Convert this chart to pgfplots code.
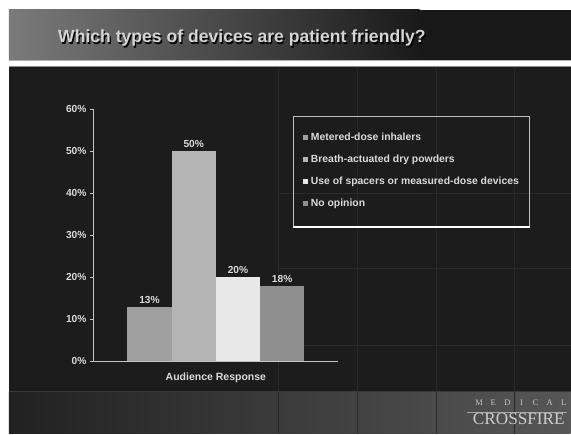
\documentclass[border=0pt]{standalone}
\usepackage{fontspec}
\setmainfont{Liberation Sans}
\newfontfamily\seriffont{Liberation Serif}
\usepackage{pgfplots}
\pgfplotsset{compat=1.18}
\definecolor{bodybg}{HTML}{1C1C1C}
\definecolor{gridc}{HTML}{292929}
\definecolor{axc}{HTML}{C4C4C4}
\definecolor{txt}{HTML}{DADADA}
\definecolor{barA}{HTML}{9F9F9F}
\definecolor{barB}{HTML}{B4B4B4}
\definecolor{barC}{HTML}{E8E8E8}
\definecolor{barD}{HTML}{8F8F8F}
\begin{document}
\begin{tikzpicture}[x=1pt,y=1pt]
% slide background
\fill[white] (0,0) rectangle (571,434);
\shade[left color=black!52!white, right color=black!90!white] (9,374) rectangle (420,424);
\fill[black!90!white] (419.5,374) rectangle (571,424);
\fill[black!30!white] (9,373) rectangle (571,374);
\fill[white] (9,367.5) rectangle (571,373);
\fill[black!45!white] (9,367) rectangle (571,367.6);
\fill[bodybg] (9,42) rectangle (571,367);
\shade[left color=black!87!white, right color=black!66!white] (9,0) rectangle (571,42);
\fill[black!78!white] (9,41.5) rectangle (571,42.5);
% decorative grid
\foreach \gx in {279,358,437,515} \draw[gridc, line width=0.7pt] (\gx,0) -- (\gx,367);
\foreach \gy in {241,165,88} \draw[gridc, line width=0.7pt] (279,\gy) -- (571,\gy);
% title
\node[anchor=base west, text=black, inner sep=0pt, font=\fontsize{17.6}{20}\selectfont\bfseries] at (59.3,389.8) {Which types of devices are patient friendly?};
\node[anchor=base west, text=black!17!white, inner sep=0pt, font=\fontsize{17.6}{20}\selectfont\bfseries] at (58,391) {Which types of devices are patient friendly?};
% chart
\begin{axis}[
  at={(94pt,72.3pt)}, anchor=south west,
  scale only axis, width=244pt, height=252.4pt,
  xmin=-1, xmax=1, ymin=0, ymax=60,
  ybar=0pt, bar width=44.25pt,
  axis x line*=bottom, axis y line*=left,
  axis line style={axc, line width=1.1pt},
  xtick=\empty,
  ytick={0,10,20,30,40,50,60},
  yticklabel={\pgfmathprintnumber{\tick}\%},
  /pgf/number format/assume math mode=true,
  tick align=outside, major tick length=3.5pt,
  y tick style={axc, line width=0.9pt},
  ticklabel style={font=\fontsize{10.2}{12}\selectfont\bfseries, text=txt},
  yticklabel style={xshift=-0.5pt},
  xlabel={Audience Response},
  xlabel style={font=\fontsize{10.5}{12}\selectfont\bfseries, text=txt, at={(axis description cs:0.5,0)}, anchor=north, yshift=-7.5pt},
  nodes near coords={\pgfmathprintnumber{\pgfplotspointmeta}\%},
  nodes near coords style={font=\fontsize{10.2}{12}\selectfont\bfseries, text=txt, /pgf/number format/assume math mode=true},
  legend image code/.code={\fill[#1] (0pt,-2.6pt) rectangle (5.2pt,2.6pt);},
  legend style={at={(axis description cs:0.857,0.906)}, anchor=north west, draw=none, fill=none,
    font=\fontsize{10.4}{12}\selectfont\bfseries, text=txt, row sep=13pt, inner sep=0pt,
    nodes={inner xsep=2.6pt, inner ysep=0pt}},
  legend cell align=left,
  clip=false,
]
\addplot[fill=barA, draw=none] coordinates {(0,13)};
\addlegendentry{Metered-dose inhalers}
\addplot[fill=barB, draw=none] coordinates {(0,50)};
\addlegendentry{Breath-actuated dry powders}
\addplot[fill=barC, draw=none] coordinates {(0,20)};
\addlegendentry{Use of spacers or measured-dose devices}
\addplot[fill=barD, draw=none] coordinates {(0,18)};
\addlegendentry{No opinion}
\end{axis}
% legend frame
\draw[black!25!white, line width=1pt] (294,207) -- (294,317) -- (530,317) -- (530,207);
\draw[white, line width=1.8pt] (293.5,207) -- (530.5,207);
% logo
\foreach \L [count=\i from 0] in {M,E,D,I,C,A,L}
  \node[anchor=base, text=black!22!white, inner sep=0pt, font=\seriffont\fontsize{8.5}{9}\selectfont] at (479.5+14.1*\i,28) {\L};
\draw[black!35!white, line width=0.5pt] (467,21.5) -- (567,21.5);
\node[anchor=base west, text=black!20!white, inner sep=0pt, font=\seriffont\fontsize{17.2}{19}\selectfont] at (473,9) {CROSSFIRE};
\end{tikzpicture}
\end{document}
